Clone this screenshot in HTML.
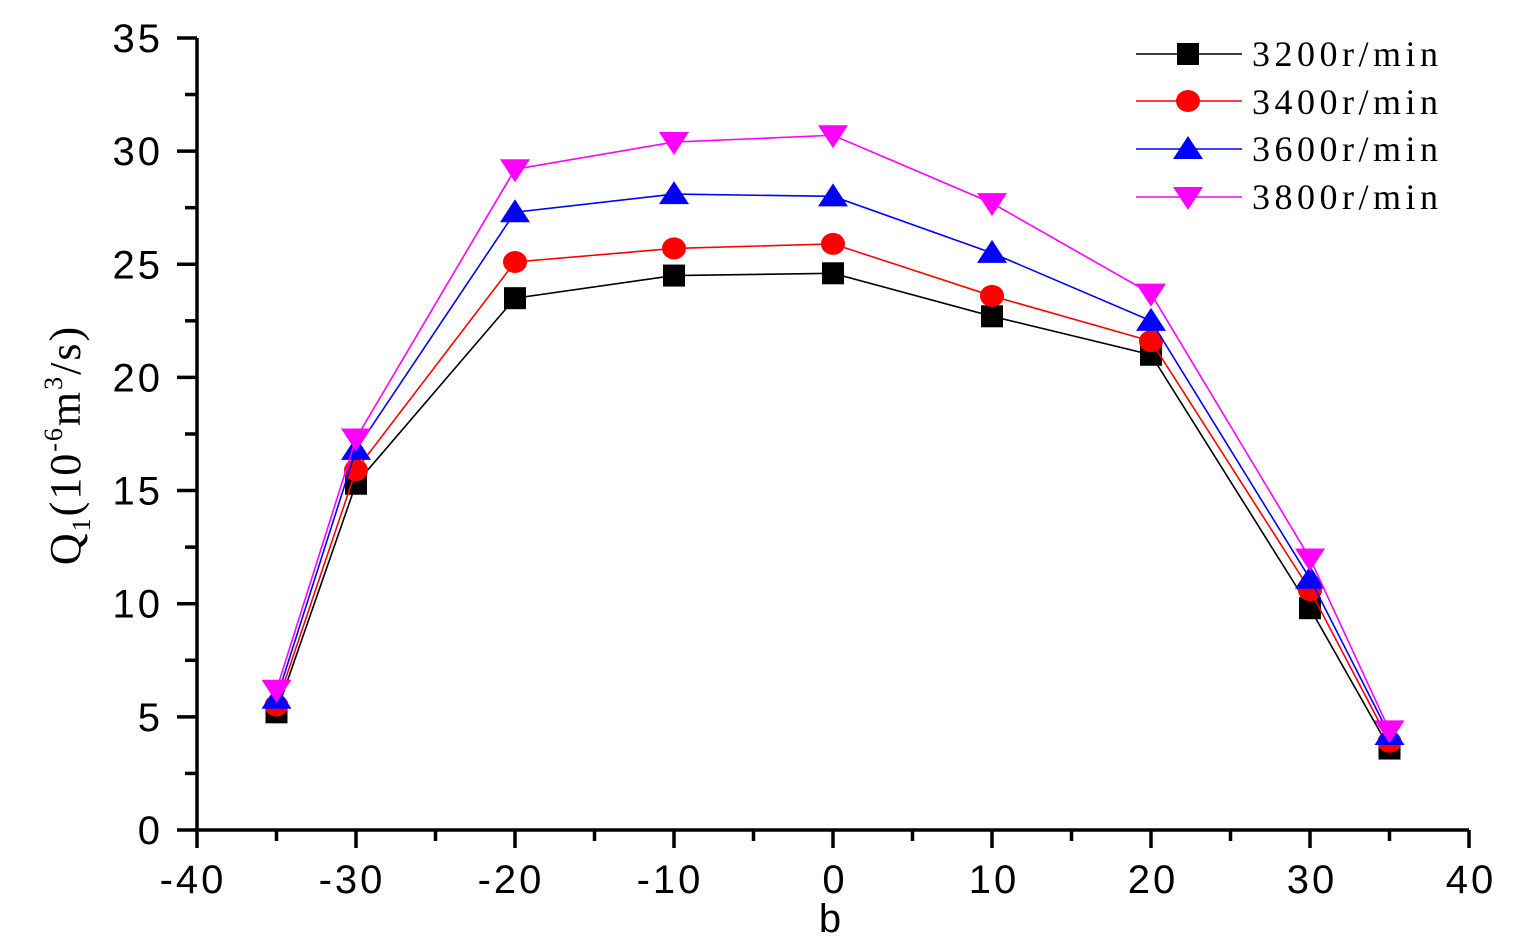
<!DOCTYPE html>
<html><head><meta charset="utf-8"><style>
html,body{margin:0;padding:0;background:#fff;}
svg{display:block;}
</style></head><body>
<svg id="s" width="1514" height="950" xmlns="http://www.w3.org/2000/svg">
<g font-family="Liberation Sans, sans-serif" font-size="40" letter-spacing="3" fill="#000" id="lab"></g>
<text x="830" y="932" font-family="Liberation Sans, sans-serif" font-size="40" text-anchor="middle">b</text>
<g transform="translate(80,445) rotate(-90)" font-family="Liberation Serif, serif" font-size="44" letter-spacing="2">
<text x="0" y="0" text-anchor="middle">Q<tspan font-size="26" dy="10">1</tspan><tspan dy="-10">(10</tspan><tspan font-size="26" dy="-18">-6</tspan><tspan dy="18">m</tspan><tspan font-size="26" dy="-18">3</tspan><tspan dy="18">/s)</tspan></text>
</g>
<g id="ax" stroke="#000" stroke-width="3.5" fill="none"></g>
<g id="data"></g>
<g font-family="Liberation Serif, serif" font-size="36" letter-spacing="4.5">
<text x="1252" y="66">3200r/min</text>
<text x="1252" y="114">3400r/min</text>
<text x="1252" y="161">3600r/min</text>
<text x="1252" y="209">3800r/min</text>
</g>
</svg>
<script>
const NS="http://www.w3.org/2000/svg";
const X=v=>197+(v+40)*15.9, Y=v=>830-v*22.63;
function el(p,t,a){const e=document.createElementNS(NS,t);for(const k in a)e.setAttribute(k,a[k]);p.appendChild(e);return e;}
const ax=document.getElementById('ax'),lab=document.getElementById('lab');
el(ax,'path',{d:`M197,${Y(35)} L197,830 L1469,830`});
for(let v=0;v<=35;v+=2.5){const y=Y(v),maj=v%5==0;el(ax,'line',{x1:maj?177:185,y1:y,x2:197,y2:y});
 if(maj){const t=el(lab,'text',{x:163,y:y+14,'text-anchor':'end'});t.textContent=v;}}
for(let v=-40;v<=40;v+=5){const x=X(v),maj=v%10==0;el(ax,'line',{x1:x,y1:830,x2:x,y2:maj?848:841});
 if(maj){const t=el(lab,'text',{x:x-(v<0?6:0)+2,y:893,'text-anchor':'middle'});t.textContent=v;}}
const xs=[-35,-30,-20,-10,0,10,20,30,35];
const S=[
 ['#000','sq',[5.2,15.3,23.5,24.5,24.6,22.7,21.0,9.8,3.6]],
 ['#f00','ci',[5.5,15.9,25.1,25.7,25.9,23.6,21.6,10.6,3.9]],
 ['#00f','up',[5.8,16.8,27.3,28.1,28.0,25.5,22.5,11.1,4.2]],
 ['#f0f','dn',[6.2,17.3,29.2,30.4,30.7,27.7,23.7,12.0,4.4]]];
const d=document.getElementById('data');
function mk(c,t,x,y){
 if(t=='sq')el(d,'rect',{x:x-11,y:y-11,width:22,height:22,fill:c});
 else if(t=='ci')el(d,'ellipse',{cx:x,cy:y,rx:12,ry:11,fill:c});
 else if(t=='up')el(d,'polygon',{points:`${x-15},${y+10} ${x+15},${y+10} ${x},${y-13}`,fill:c});
 else el(d,'polygon',{points:`${x-15},${y-10} ${x+15},${y-10} ${x},${y+13}`,fill:c});}
const ly=[54,101,149,197];
S.forEach((s,i)=>{
 el(d,'polyline',{points:xs.map((v,j)=>X(v)+','+Y(s[2][j])).join(' '),fill:'none',stroke:s[0],'stroke-width':1.6});
 xs.forEach((v,j)=>mk(s[0],s[1],X(v),Y(s[2][j])));
 el(d,'line',{x1:1136,y1:ly[i],x2:1242,y2:ly[i],stroke:s[0],'stroke-width':1.6});
 mk(s[0],s[1],1188,ly[i]);
});
</script>
</body></html>
